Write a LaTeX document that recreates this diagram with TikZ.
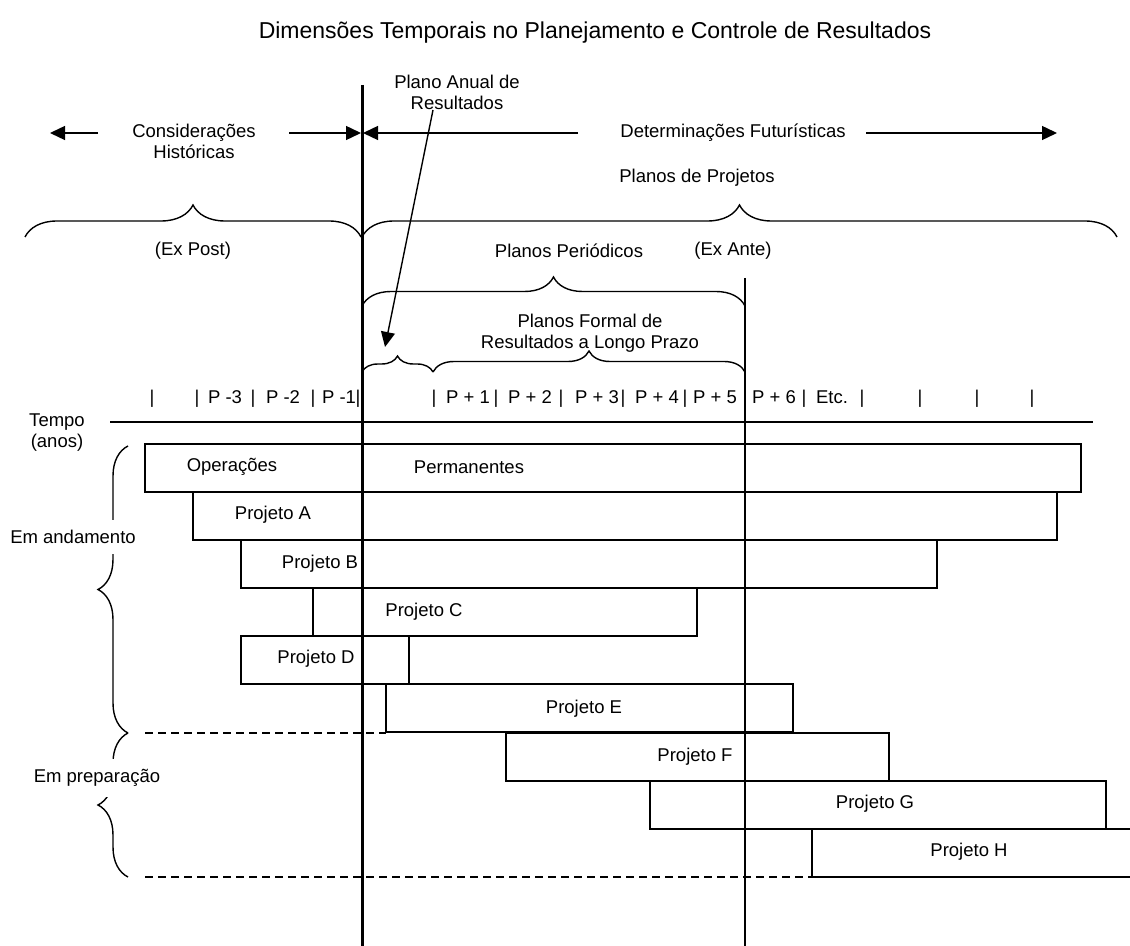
\documentclass[tikz,border=0pt]{standalone}
\usepackage{fontspec}
\setmainfont{Liberation Sans}
\usetikzlibrary{arrows.meta}
\usetikzlibrary{positioning}
\usetikzlibrary{decorations.pathreplacing}
\tikzset{
	rotulo/.style={font=\fontsize{9.25}{10.5}\selectfont, inner sep=0pt, align=center},
	titulo/.style={font=\fontsize{11.5}{13}\selectfont, inner sep=0pt},
	seta/.style={draw=black, -{Triangle[length=7.5pt,width=7pt]}},
	chave/.style={decorate, decoration={brace, amplitude=#1}},
	caixa/.style={draw=black, line width=0.75pt},
	tracejado/.style={dash pattern=on 4pt off 2.5pt},
	marco/.style={draw=black, line width=1.5pt},
	recorte/.style={rotulo, fill=white, inner ysep=5pt},
}
\begin{document}
\begin{tikzpicture}[x=0.5pt, y=-0.5pt, line width=0.7pt]
	\useasboundingbox (0,0) rectangle (1130,946);
	\clip (0,0) rectangle (1130,946);
	\node[titulo] (titulo) at (595,33) {Dimensões Temporais no Planejamento e Controle de Resultados};
	% linhas verticais
	\coordinate (hojetopo) at (362,85);
	\coordinate (hojebase) at (362,946);
	\coordinate (antetopo) at (745,278);
	\coordinate (antebase) at (745,946);
	\draw[marco] (hojetopo)--(hojebase);
	\draw (antetopo)--(antebase);
	% setas do topo
	\node[rotulo] (historicas) at (194,141) {Considerações\\Históricas};
	\node[rotulo] (futuristicas) at (733,133) {Determinações Futurísticas};
	\coordinate (hA) at (98,133);
	\coordinate (hB) at (50,133);
	\coordinate (hC) at (289,133);
	\coordinate (hD) at (361,133);
	\coordinate (fA) at (578,133);
	\coordinate (fB) at (363,133);
	\coordinate (fC) at (866,133);
	\coordinate (fD) at (1057,133);
	\draw[seta] (hA)--(hB);
	\draw[seta] (hC)--(hD);
	\draw[seta] (fA)--(fB);
	\draw[seta] (fC)--(fD);
	\node[rotulo] (anual) at (457,92) {Plano Anual de\\Resultados};
	\coordinate (anualA) at (433,110);
	\coordinate (anualB) at (385,347);
	\draw[seta] (anualA)--(anualB);
	% chaves de cima
	\node[rotulo] (projetos) at (697,178) {Planos de Projetos};
	\node[rotulo] (expost) at (193,251) {(Ex Post)};
	\node[rotulo] (periodicos) at (569,251) {Planos Periódicos};
	\node[rotulo] (exante) at (733,251) {(Ex Ante)};
	\node[rotulo] (formal) at (590,333) {Planos Formal de\\Resultados a Longo Prazo};
	\draw[chave=16pt] (25,237)--(361,237);
	\draw[chave=16pt] (362,237)--(1117,237);
	\draw[chave=14.5pt] (362,306)--(745,306);
	\draw[chave=8pt] (362,372)--(433,372);
	\draw[chave=10.5pt] (433,372)--(745,372);
	% anos
	\foreach \x in {152,197,253,313,358,434,496,561,623,685,804,862,920,977,1032}
		\node[rotulo, anchor=base] (barra\x) at (\x,404) {|};
	\foreach \x/\p in {225/P -3,283/P -2,339/P -1,468/P + 1,530/P + 2,597/P + 3,657/P + 4,715/P + 5,774/P + 6,832/Etc.}
		\node[rotulo, anchor=base] (ano\x) at (\x,404) {\p};
	\node[rotulo] (tempo) at (57,433) {Tempo\\(anos)};
	\coordinate (eixoA) at (110,422);
	\coordinate (eixoB) at (1093,422);
	\draw (eixoA)--(eixoB);
	% barras
	\foreach \a/\b/\c in {145/1081/444, 193/1057/492, 241/937/540, 313/697/588, 241/409/636, 386/793/684, 506/889/733, 650/1106/781, 812/1140/829}
		\draw[caixa] (\a,\c) rectangle (\b,\c+48);
	\node[rotulo] (operacoes) at (232,467) {Operações};
	\node[rotulo] (permanentes) at (469,467) {Permanentes};
	\foreach \x/\y/\n in {273/515/A, 320/564/B, 424/612/C, 316/659/D, 584/709/E, 695/757/F, 875/804/G, 969/852/H}
		\node[rotulo] (projeto\n) at (\x,\y) {Projeto \n};
	\coordinate (andA) at (145,733);
	\coordinate (andB) at (386,733);
	\coordinate (prepA) at (145,877);
	\coordinate (prepB) at (812,877);
	\draw[tracejado] (andA)--(andB);
	\draw[tracejado] (prepA)--(prepB);
	% chaves da esquerda
	\draw[chave=15pt] (128,733)--(128,446);
	\draw[chave=15pt] (128,877)--(128,733);
	\node[recorte] (andamento) at (73,537) {Em andamento};
	\node[recorte] (preparacao) at (97,778) {Em preparação};
\end{tikzpicture}
\end{document}
